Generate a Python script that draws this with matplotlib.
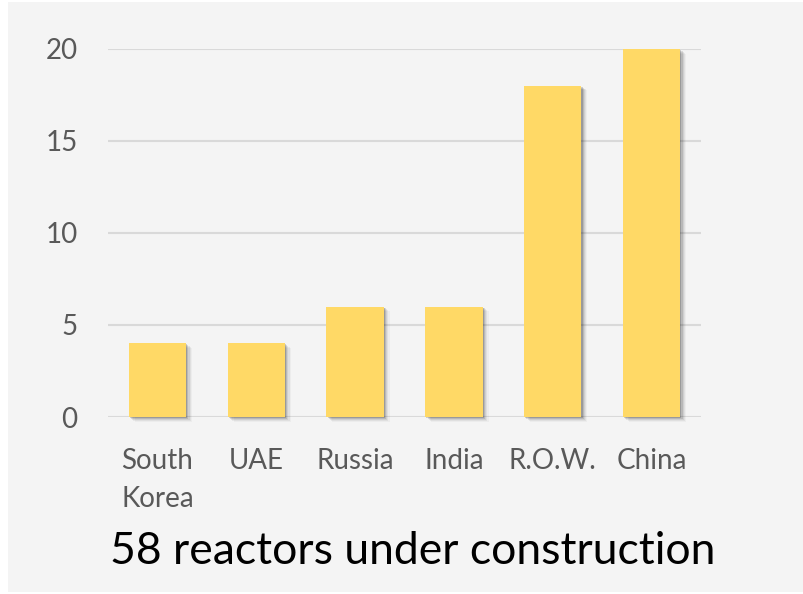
#!/usr/bin/env python3
# -*- coding: utf-8 -*-

import matplotlib
matplotlib.use("Agg")
import matplotlib.pyplot as plt
from matplotlib.patches import Rectangle
import numpy as np

countries = ["South\nKorea", "UAE", "Russia", "India", "R.O.W.", "China"]
reactors = [4, 4, 6, 6, 18, 20]
y_ticks = [0, 5, 10, 15, 20]
title = "58 reactors under construction"

plt.rcParams["font.family"] = ["Lato", "DejaVu Sans"]

fig = plt.figure(figsize=(8.04, 5.94), dpi=100)
fig.patch.set_facecolor("white")
# grey chart area, behind the axes
fig.patches.append(Rectangle((8 / 804, 0.003), 1, 0.994, transform=fig.transFigure,
                             facecolor="#f4f4f4", edgecolor="none", zorder=-1))

ax = fig.add_axes([108 / 804, 1 - 417 / 594, 593 / 804, 368 / 594])
ax.set_facecolor("none")

x = np.arange(len(countries))
width = 0.58

# soft shadow: a few offset bars with low alpha
for k, a in [(1, 0.16), (2, 0.11), (3, 0.07), (4, 0.05), (5, 0.03)]:
    dx = k * 0.012
    dy = k * 0.05
    ax.bar(x + dx, reactors, width=width, bottom=-dy,
           color="black", alpha=a, linewidth=0, zorder=2, clip_on=False)

ax.bar(x, reactors, width=width, color="#ffd966", linewidth=0, zorder=3)

ax.set_xlim(-0.5, len(countries) - 0.5)
ax.set_ylim(0, 20)
ax.set_yticks(y_ticks)
ax.set_xticks(x)
ax.set_xticklabels(countries, linespacing=1.55)
ax.yaxis.grid(True, color="#d9d9d9", linewidth=1.5, zorder=1)
ax.set_axisbelow(True)
for s in ax.spines.values():
    s.set_visible(False)
ax.tick_params(length=0, labelsize=20, colors="#595959")
ax.tick_params(axis="y", pad=22)
ax.tick_params(axis="x", pad=22.5)

fig.text(0.513, 1 - 551 / 594, title, ha="center", va="center",
         fontsize=32, color="black")

plt.savefig("out.png", dpi=100)
plt.close(fig)
